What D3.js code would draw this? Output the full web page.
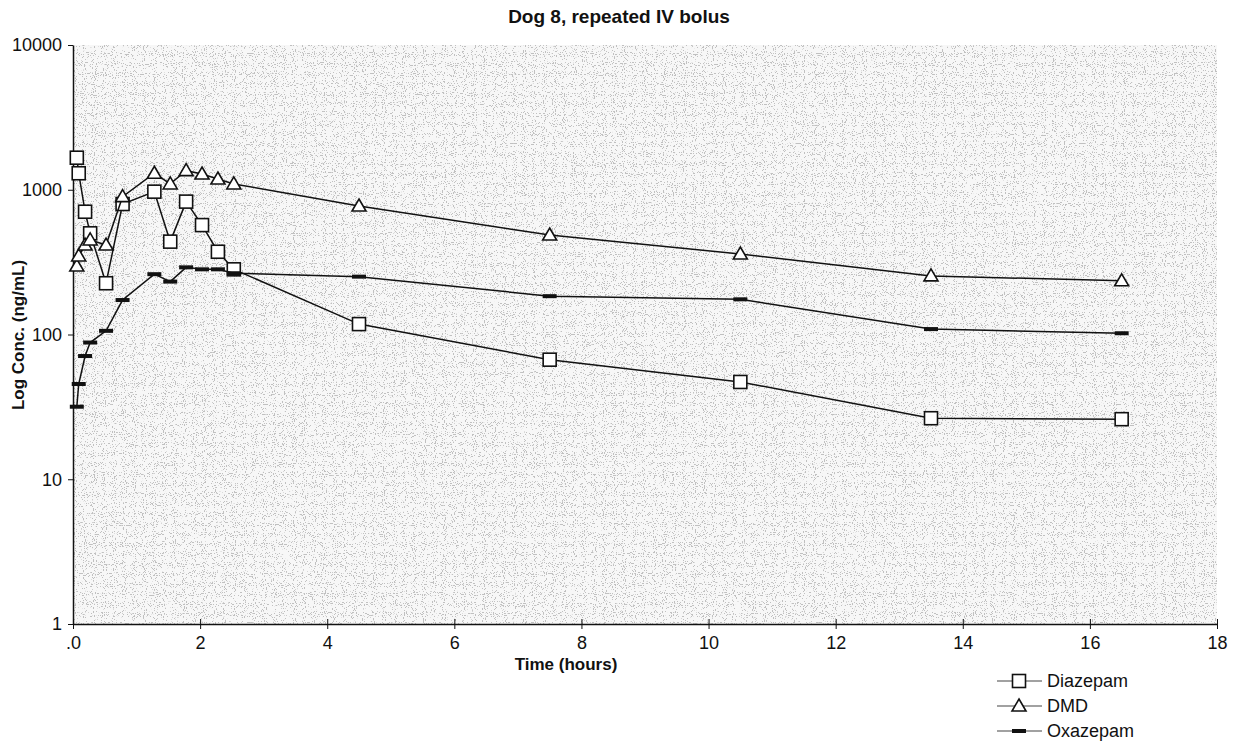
<!DOCTYPE html>
<html>
<head>
<meta charset="utf-8">
<title>Dog 8, repeated IV bolus</title>
<script src="https://cdn.jsdelivr.net/npm/d3@7"></script>
<style>
body { margin: 0; background: #fff; font-family: "Liberation Sans", Arial, sans-serif; }
svg text { fill: #111; }
</style>
</head>
<body>
<svg id="chart" width="1238" height="749"></svg>
<script>
// sampling times (hours), shared by the three series
var times = [0.06, 0.09, 0.19, 0.27, 0.52, 0.78, 1.28, 1.53, 1.78, 2.03, 2.28, 2.53, 4.5, 7.5, 10.5, 13.5, 16.5];
var diazepam = [1665, 1300, 705, 500, 226, 797, 970, 438, 828, 570, 373, 282, 118, 67, 47, 26.4, 26];
var dmd = [297, 349, 415, 450, 415, 896, 1300, 1097, 1355, 1285, 1187, 1097, 772, 487, 360, 254, 235];
var oxazepam = [31.7, 45.5, 71, 88, 106, 173, 261, 232, 291, 282, 282, 265, 251, 184, 175, 109, 102];

var xTicks = [0, 2, 4, 6, 8, 10, 12, 14, 16, 18];
var yTicks = [1, 10, 100, 1000, 10000];
var seriesNames = ["Diazepam", "DMD", "Oxazepam"];

var margin = { left: 73, right: 21, top: 45, bottom: 125 };
var width = 1238, height = 749;

var svg = d3.select("#chart");

var x = d3.scaleLinear().domain([0, 18]).range([margin.left, width - margin.right]);
var y = d3.scaleLog().domain([1, 10000]).range([height - margin.bottom, margin.top]);

// light speckled plot background, like the scanned original
var defs = svg.append("defs");
var f = defs.append("filter").attr("id", "speckle")
    .attr("x", 0).attr("y", 0).attr("width", 1).attr("height", 1);
f.append("feTurbulence").attr("type", "fractalNoise")
    .attr("baseFrequency", "0.9").attr("numOctaves", 1).attr("seed", 7).attr("result", "n");
f.append("feColorMatrix").attr("type", "matrix")
    .attr("values", "0 0 0 0 0  0 0 0 0 0  0 0 0 0 0  0 0 0 25 -15");

var plotW = x(18) - x(0), plotH = y(1) - y(10000);
svg.append("rect")
    .attr("x", x(0)).attr("y", y(10000))
    .attr("width", plotW).attr("height", plotH)
    .attr("fill", "#f7f7f7");
svg.append("rect")
    .attr("x", x(0)).attr("y", y(10000))
    .attr("width", plotW).attr("height", plotH)
    .attr("fill", "#000").attr("opacity", 0.22)
    .attr("filter", "url(#speckle)");

// axes
var xAxis = d3.axisBottom(x).tickValues(xTicks)
    .tickFormat(function (d) { return d === 0 ? ".0" : d; })
    .tickSize(5).tickSizeOuter(0).tickPadding(7);
var gx = svg.append("g").attr("transform", "translate(0," + y(1) + ")").call(xAxis);
gx.selectAll(".tick line").attr("y1", -5).attr("y2", 5);

var yAxis = d3.axisLeft(y).tickValues(yTicks)
    .tickFormat(d3.format("d")).tickSize(5).tickSizeOuter(0).tickPadding(6);
var gy = svg.append("g").attr("transform", "translate(" + x(0) + ",0)").call(yAxis);

svg.selectAll(".domain").attr("stroke", "#111").attr("stroke-width", 1.5);
svg.selectAll(".tick line").attr("stroke", "#111");
svg.selectAll(".tick text").attr("font-size", 18).attr("font-family", "Liberation Sans, Arial, sans-serif");

// titles
svg.append("text").attr("x", 619).attr("y", 23).attr("text-anchor", "middle")
    .attr("font-size", 19).attr("font-weight", "bold").text("Dog 8, repeated IV bolus");
svg.append("text").attr("x", 566).attr("y", 670).attr("text-anchor", "middle")
    .attr("font-size", 17).attr("font-weight", "bold").text("Time (hours)");
svg.append("text").attr("transform", "translate(24," + 335 + ")rotate(-90)")
    .attr("text-anchor", "middle").attr("font-size", 17).attr("font-weight", "bold")
    .text("Log Conc. (ng/mL)");

// series
var line = d3.line().x(function (d) { return x(d[0]); }).y(function (d) { return y(d[1]); });
var allSeries = [diazepam, dmd, oxazepam];

function drawMarker(g, kind, cx, cy) {
    if (kind === 0) {
        g.append("rect").attr("x", cx - 6.5).attr("y", cy - 6.5).attr("width", 13).attr("height", 13)
            .attr("fill", "#fff").attr("stroke", "#111").attr("stroke-width", 1.6);
    } else if (kind === 1) {
        g.append("path").attr("d", "M" + cx + "," + (cy - 7) + "L" + (cx + 7) + "," + (cy + 5) + "L" + (cx - 7) + "," + (cy + 5) + "Z")
            .attr("fill", "#fff").attr("stroke", "#111").attr("stroke-width", 1.6);
    } else {
        g.append("rect").attr("x", cx - 7).attr("y", cy - 2).attr("width", 14).attr("height", 4)
            .attr("fill", "#111");
    }
}

allSeries.forEach(function (vals, k) {
    var pts = times.map(function (t, i) { return [t, vals[i]]; });
    var g = svg.append("g");
    g.append("path").attr("d", line(pts)).attr("fill", "none")
        .attr("stroke", "#111").attr("stroke-width", 1.5);
    pts.forEach(function (p) { drawMarker(g, k, x(p[0]), y(p[1])); });
});

// legend
var leg = svg.append("g");
seriesNames.forEach(function (name, k) {
    var ly = 681 + k * 25;
    leg.append("line").attr("x1", 997).attr("x2", 1042).attr("y1", ly).attr("y2", ly)
        .attr("stroke", "#444").attr("stroke-width", 1.2);
    drawMarker(leg, k, 1019, ly);
    leg.append("text").attr("x", 1047).attr("y", ly + 6).attr("font-size", 18).text(name);
});
</script>
</body>
</html>
